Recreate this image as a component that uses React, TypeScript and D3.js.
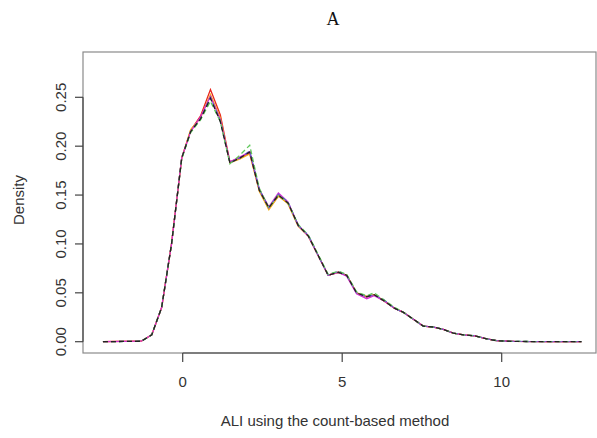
import React, { useEffect, useRef } from "react";
import * as d3 from "d3";

const xs = [-2.5, -1.3, -0.97, -0.66, -0.35, -0.03, 0.25, 0.56, 0.87, 1.18, 1.48, 1.8, 2.1, 2.4, 2.7, 3.0, 3.3, 3.62, 3.94, 4.25, 4.56, 4.88, 5.14, 5.45, 5.77, 6.0, 6.3, 6.65, 6.92, 7.23, 7.54, 7.86, 8.17, 8.48, 8.8, 9.16, 9.53, 9.84, 10.4, 11.5, 12.5];

const redY = [0, 0.0005, 0.007, 0.035, 0.1, 0.188, 0.216, 0.231, 0.258, 0.232, 0.184, 0.188, 0.193, 0.155, 0.136, 0.149, 0.142, 0.119, 0.108, 0.088, 0.068, 0.071, 0.068, 0.05, 0.046, 0.048, 0.042, 0.034, 0.03, 0.023, 0.016, 0.015, 0.0125, 0.0088, 0.007, 0.006, 0.003, 0.001, 0.0003, 0, 0];
const orangeY = [0, 0.0005, 0.007, 0.035, 0.1, 0.188, 0.217, 0.229, 0.253, 0.229, 0.183, 0.187, 0.192, 0.154, 0.135, 0.149, 0.141, 0.118, 0.108, 0.088, 0.068, 0.071, 0.068, 0.05, 0.046, 0.048, 0.042, 0.034, 0.03, 0.023, 0.016, 0.015, 0.0125, 0.0088, 0.007, 0.006, 0.003, 0.001, 0.0003, 0, 0];
const magentaY = [0, 0.0005, 0.007, 0.035, 0.1, 0.188, 0.215, 0.230, 0.251, 0.227, 0.184, 0.189, 0.194, 0.156, 0.138, 0.152, 0.143, 0.119, 0.108, 0.088, 0.068, 0.071, 0.067, 0.049, 0.044, 0.047, 0.042, 0.034, 0.03, 0.023, 0.016, 0.015, 0.0125, 0.0088, 0.007, 0.006, 0.003, 0.001, 0.0003, 0, 0];
const blueY = [0, 0.0005, 0.007, 0.035, 0.1, 0.188, 0.215, 0.228, 0.250, 0.226, 0.183, 0.188, 0.195, 0.156, 0.137, 0.151, 0.143, 0.119, 0.109, 0.088, 0.068, 0.072, 0.068, 0.05, 0.046, 0.048, 0.043, 0.034, 0.03, 0.023, 0.016, 0.015, 0.0125, 0.0088, 0.007, 0.006, 0.003, 0.001, 0.0003, 0, 0];
const greenY = [0, 0.0005, 0.007, 0.035, 0.1, 0.187, 0.214, 0.227, 0.246, 0.225, 0.182, 0.191, 0.201, 0.157, 0.137, 0.150, 0.142, 0.12, 0.109, 0.089, 0.069, 0.072, 0.069, 0.051, 0.047, 0.05, 0.043, 0.035, 0.03, 0.023, 0.016, 0.015, 0.0125, 0.0088, 0.007, 0.006, 0.003, 0.001, 0.0003, 0, 0];
const blackY = [0, 0.0005, 0.007, 0.035, 0.1, 0.188, 0.215, 0.228, 0.249, 0.225, 0.183, 0.188, 0.194, 0.155, 0.137, 0.150, 0.142, 0.119, 0.108, 0.088, 0.068, 0.071, 0.068, 0.05, 0.046, 0.048, 0.042, 0.034, 0.03, 0.023, 0.016, 0.015, 0.0125, 0.0088, 0.007, 0.006, 0.003, 0.001, 0.0003, 0, 0];

const seriesNames = ["red", "orange", "magenta", "blue", "green", "black"];
const seriesValues = [redY, orangeY, magentaY, blueY, greenY, blackY];
const seriesColors = ["#e8231c", "#f2b21b", "#d62ad6", "#6a5acd", "#5fc85a", "#222222"];
const seriesDash = ["", "", "", "5,3", "5,3", "5,3"];

const xTicks = [0, 5, 10];
const yTicks = [0, 0.05, 0.1, 0.15, 0.2, 0.25];

const W = 597;
const H = 438;

export default function App() {
  const ref = useRef<SVGSVGElement>(null);
  useEffect(() => {
    document.body.style.margin = "0";
    const svg = d3.select(ref.current);
    svg.selectAll("*").remove();
    const x = d3.scaleLinear().domain([0, 10]).range([182.7, 501.7]);
    const y = d3.scaleLinear().domain([0, 0.25]).range([341.7, 97.3]);
    const font = "'Liberation Sans', Arial, sans-serif";

    // box
    svg.append("rect").attr("x", 83).attr("y", 52).attr("width", 513).attr("height", 301)
      .attr("fill", "none").attr("stroke", "#8a8a8a").attr("stroke-width", 1.2);

    const line = d3.line<number>().x((_, i) => x(xs[i])).y((d) => y(d));
    seriesValues.forEach((vals, i) => {
      svg.append("path").datum(vals).attr("d", line)
        .attr("fill", "none").attr("stroke", seriesColors[i])
        .attr("stroke-width", 1.3)
        .attr("stroke-dasharray", seriesDash[i] || null)
        .attr("class", seriesNames[i]);
    });

    // x axis
    const xa = svg.append("g").attr("transform", "translate(0,353)");
    xa.append("line").attr("x1", x(0)).attr("x2", x(10)).attr("stroke", "#444").attr("stroke-width", 1.2);
    xTicks.forEach((t) => {
      xa.append("line").attr("x1", x(t)).attr("x2", x(t)).attr("y1", 0).attr("y2", 9).attr("stroke", "#444").attr("stroke-width", 1.2);
      xa.append("text").attr("x", x(t)).attr("y", 34).attr("text-anchor", "middle")
        .attr("font-family", font).attr("font-size", 15).attr("fill", "#333").text(String(t));
    });

    // y axis
    const ya = svg.append("g").attr("transform", "translate(83,0)");
    ya.append("line").attr("y1", y(0)).attr("y2", y(0.25)).attr("stroke", "#444").attr("stroke-width", 1.2);
    yTicks.forEach((t) => {
      ya.append("line").attr("y1", y(t)).attr("y2", y(t)).attr("x1", 0).attr("x2", -8).attr("stroke", "#444").attr("stroke-width", 1.2);
      ya.append("text").attr("transform", `translate(-17,${y(t)}) rotate(-90)`).attr("text-anchor", "middle")
        .attr("font-family", font).attr("font-size", 15).attr("fill", "#333").text(t.toFixed(2));
    });

    svg.append("text").attr("x", 333).attr("y", 25).attr("text-anchor", "middle")
      .attr("font-family", "'Liberation Serif', 'Times New Roman', serif").attr("font-size", 18).attr("fill", "#111").text("A");
    svg.append("text").attr("x", 335).attr("y", 426).attr("text-anchor", "middle")
      .attr("font-family", font).attr("font-size", 15).attr("fill", "#333").text("ALI using the count-based method");
    svg.append("text").attr("transform", "translate(24,200) rotate(-90)").attr("text-anchor", "middle")
      .attr("font-family", font).attr("font-size", 15).attr("fill", "#333").text("Density");
  }, []);
  return <svg ref={ref} width={W} height={H} style={{ display: "block", background: "#fff" }} />;
}
